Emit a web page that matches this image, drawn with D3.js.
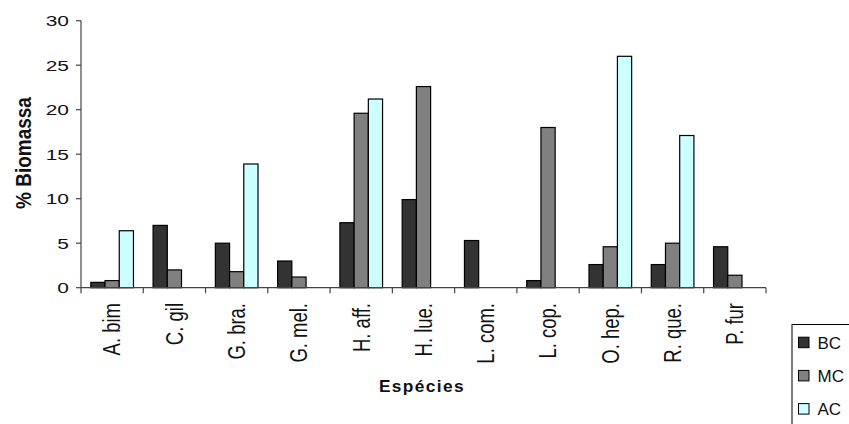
<!DOCTYPE html>
<html><head><meta charset="utf-8">
<script src="https://cdn.jsdelivr.net/npm/d3@7"></script>
<style>body{margin:0;background:#fff}svg{display:block;font-family:Arial,"Liberation Sans",sans-serif}</style>
</head><body><svg id="c" width="849" height="424"></svg>
<script>
const categories = ["A. bim","C. gil","G. bra.","G. mel.","H. aff.","H. lue.","L. com.","L. cop.","O. hep.","R. que.","P. fur"];
const seriesNames = ["BC","MC","AC"];
const BC = [0.6, 7.0, 5.0, 3.0, 7.3, 9.9, 5.3, 0.8, 2.6, 2.6, 4.6];
const MC = [0.8, 2.0, 1.8, 1.2, 19.6, 22.6, 0, 18.0, 4.6, 5.0, 1.4];
const AC = [6.4, 0, 13.9, 0, 21.2, 0, 0, 0, 26.0, 17.1, 0];
const yTicks = [0,5,10,15,20,25,30];
const colors = {BC:"#333333", MC:"#808080", AC:"#ccffff"};
const seriesValues = {BC, MC, AC};

const svg = d3.select("#c");
const x0 = d3.scaleBand().domain(categories).range([81, 766]).padding(0);
const x1 = d3.scaleBand().domain(seriesNames).range([0, x0.bandwidth()]).paddingInner(0).paddingOuter(0.69);
const y = d3.scaleLinear().domain([0,30]).range([287.7, 20.7]);

// bars
const g = svg.append("g");
categories.forEach((c,i)=>{
  seriesNames.forEach(s=>{
    const v = seriesValues[s][i];
    if (!v) return;
    g.append("rect")
      .attr("x", x0(c)+x1(s)).attr("y", y(v))
      .attr("width", x1.bandwidth()).attr("height", y(0)-y(v))
      .attr("fill", colors[s]).attr("stroke","#000").attr("stroke-width",1.2);
  });
});

// y axis
const ya = svg.append("g");
ya.append("line").attr("x1",81).attr("x2",81).attr("y1",y(30)).attr("y2",y(0)).attr("stroke","#444").attr("stroke-width",1.2);
yTicks.forEach(t=>{
  ya.append("line").attr("x1",76).attr("x2",81).attr("y1",y(t)).attr("y2",y(t)).attr("stroke","#444").attr("stroke-width",1.2);
  ya.append("text").attr("transform",`translate(69,${y(t)}) scale(1.35,1)`)
    .attr("text-anchor","end").attr("dy","0.36em").attr("font-size",15.5).attr("fill","#111").text(t);
});

// x axis
const xa = svg.append("g");
xa.append("line").attr("x1",81).attr("x2",766).attr("y1",y(0)).attr("y2",y(0)).attr("stroke","#444").attr("stroke-width",1.2);
const bounds = categories.map(c=>x0(c)).concat([x0.range()[1]]);
bounds.forEach(b=>{
  xa.append("line").attr("x1",b).attr("x2",b).attr("y1",y(0)).attr("y2",y(0)+5.5).attr("stroke","#444").attr("stroke-width",1.2);
});
categories.forEach(c=>{
  const cx = x0(c)+x0.bandwidth()/2;
  xa.append("text").attr("transform",`translate(${cx},303) rotate(-90) scale(1,1.25)`)
    .attr("text-anchor","end").attr("dy","0.36em").attr("font-size",18.5).attr("fill","#111").text(c);
});

// axis titles
svg.append("text").attr("transform","translate(22.5,153) rotate(-90) scale(1,1.2)")
  .attr("text-anchor","middle").attr("dy","0.36em").attr("font-size",19).attr("font-weight","bold").attr("fill","#111").text("% Biomassa");
svg.append("text").attr("x",422).attr("y",391.7).attr("text-anchor","middle")
  .attr("font-size",17.3).attr("font-weight","bold").attr("letter-spacing",1.4).attr("fill","#111").text("Espécies");

// legend
const lg = svg.append("g");
lg.append("rect").attr("x",792).attr("y",324.5).attr("width",80).attr("height",130).attr("fill","#fff").attr("stroke","#000").attr("stroke-width",1);
seriesNames.forEach((s,i)=>{
  const cy = 342.7 + i*33.2;
  lg.append("rect").attr("x",798.5).attr("y",cy-5.5).attr("width",10.5).attr("height",10.5).attr("fill",colors[s]).attr("stroke","#000").attr("stroke-width",1);
  lg.append("text").attr("x",817.5).attr("y",cy).attr("dy","0.36em").attr("font-size",17).attr("fill","#111").text(s);
});
</script></body></html>
